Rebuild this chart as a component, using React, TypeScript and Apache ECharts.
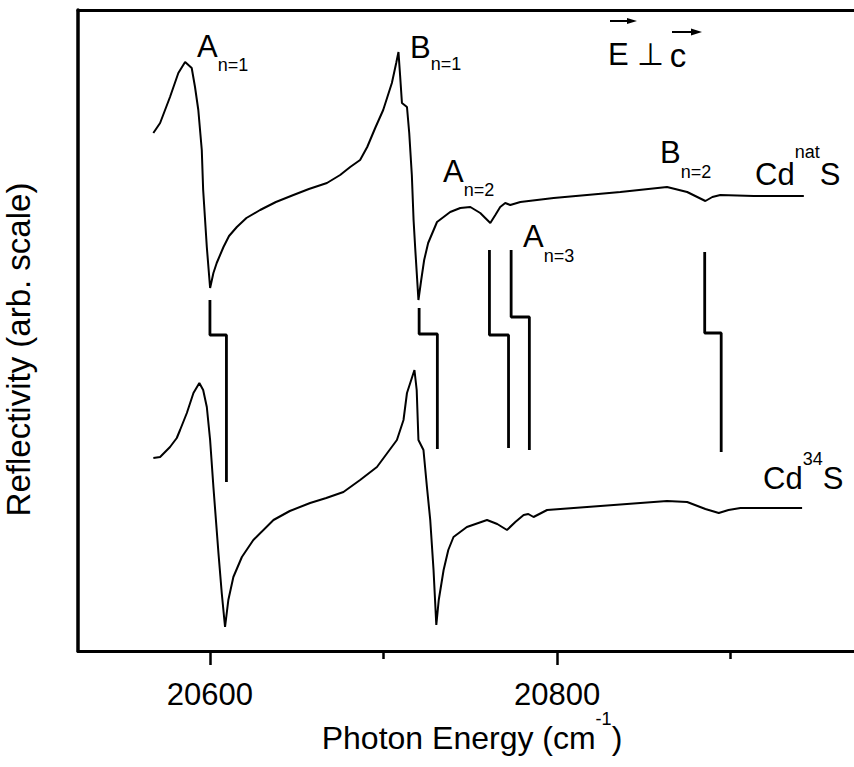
import React, { useEffect, useRef } from "react";
import * as echarts from "echarts";

// ---- data (photon energy in cm^-1, reflectivity in arbitrary units) ----
const natEnergy = [20567.4, 20571.3, 20577.0, 20581.8, 20585.7, 20589.5, 20591.4, 20593.3, 20595.3, 20596.1, 20598.2, 20600.1, 20602.0, 20603.9, 20607.8, 20611.0, 20615.5, 20621.0, 20628.9, 20638.0, 20648.1, 20657.0, 20667.4, 20675.0, 20680.8, 20686.5, 20690.6, 20695.2, 20699.8, 20704.8, 20707.3, 20708.6, 20709.6, 20710.6, 20713.5, 20714.8, 20716.3, 20717.3, 20718.2, 20720.1, 20721.7, 20723.4, 20725.7, 20730.8, 20738.4, 20744.2, 20750.0, 20755.7, 20761.5, 20764.4, 20767.2, 20770.1, 20773.0, 20778.8, 20798.0, 20836.4, 20863.3, 20874.9, 20885.4, 20889.4, 20894.0, 20913.3, 20942.1];
const natReflectivity = [518, 528, 554, 578, 589, 583, 564, 541, 501, 461, 404, 363, 378, 388, 404, 415, 424, 433, 441, 449, 456, 462, 468, 476, 484, 491, 504, 523, 541, 568, 588, 599, 574, 548, 544, 518, 476, 431, 404, 351, 371, 391, 408, 429, 439, 443, 444, 438, 428, 436, 444, 448, 446, 449, 453, 459, 464, 459, 450, 454, 456, 455, 455];

const iso34Energy = [20567.4, 20571.3, 20577.0, 20580.9, 20582.8, 20586.7, 20590.5, 20593.9, 20596.1, 20598.2, 20600.1, 20602.0, 20604.9, 20606.8, 20608.7, 20610.6, 20613.5, 20618.4, 20625.0, 20636.6, 20646.0, 20657.7, 20667.0, 20676.9, 20686.5, 20696.2, 20707.7, 20711.5, 20713.5, 20717.8, 20719.1, 20720.1, 20723.0, 20725.0, 20726.9, 20728.8, 20730.4, 20731.8, 20734.6, 20737.3, 20740.3, 20748.0, 20759.6, 20765.5, 20771.1, 20775.9, 20780.7, 20783.4, 20786.4, 20794.2, 20817.2, 20863.3, 20874.9, 20885.4, 20893.1, 20898.7, 20905.6, 20941.1];
const iso34Reflectivity = [193, 194, 204, 213, 221, 238, 258, 268, 261, 244, 211, 164, 98, 58, 24, 51, 74, 94, 111, 131, 140, 148, 153, 159, 171, 184, 211, 231, 258, 281, 261, 211, 201, 164, 131, 81, 26, 51, 81, 101, 114, 124, 131, 127, 121, 129, 136, 137, 134, 141, 144, 150, 149, 142, 138, 141, 143, 143];

// exciton markers: energy in Cd(nat)S and in Cd34S, with the marker levels
const markerNames = ["A n=1", "B n=1", "A n=2", "A n=3", "B n=2"];
const markerNatEnergy = [20600, 20720.5, 20761, 20773.5, 20885];
const markerIsoEnergy = [20609.5, 20731, 20772, 20784, 20894.5];
const markerTop = [351, 343, 401, 401, 399];
const markerStep = [316, 317, 316, 334, 318];
const markerBottom = [169, 202, 203, 201, 199];

const majorTicks = [20600, 20800];
const minorTicks = [20700, 20900];
const xMin = 20524;
const xMax = 20971;
const yMin = 0;
const yMax = 641;

const FONT = "'Liberation Sans', Arial, Helvetica, sans-serif";

function scriptRich(mainSize: number, scriptSize: number, d: number) {
  // d > 0: script centre d px below main centre; d < 0: d px above
  let padMain = 0;
  let padScript = 0;
  if (d > 0) padScript = mainSize / 2 + d - scriptSize / 2;
  else padMain = -d - (mainSize / 2 - scriptSize / 2);
  return {
    padMain,
    m: { fontSize: mainSize, lineHeight: mainSize, fontFamily: FONT, fill: "#000", color: "#000", verticalAlign: "top", padding: [padMain, 0, 0, 0] },
    o: { fontSize: scriptSize, lineHeight: scriptSize, fontFamily: FONT, fill: "#000", color: "#000", verticalAlign: "top", padding: [padScript, 0, 0, 0] },
  };
}

function scriptLabel(x: number, yMain: number, main: string, script: string, tail: string, d: number) {
  const r = scriptRich(31, 18, d);
  return {
    type: "text",
    x,
    y: yMain - r.padMain - 31 / 2,
    silent: true,
    style: {
      text: `{m|${main}}{o|${script}}` + (tail ? `{m|${tail}}` : ""),
      rich: { m: r.m, o: r.o },
      fill: "#000",
      align: "left",
      verticalAlign: "top",
    },
  };
}

export default function App() {
  const ref = useRef<HTMLDivElement>(null);
  useEffect(() => {
    if (!ref.current) return;
    const chart = echarts.init(ref.current, undefined, { renderer: "svg" });

    const curveStyle = { color: "#000", width: 2 };
    const series: any[] = [
      {
        name: "CdnatS",
        type: "line",
        data: natEnergy.map((e, i) => [e, natReflectivity[i]]),
        showSymbol: false,
        symbol: "none",
        lineStyle: curveStyle,
        silent: true,
      },
      {
        name: "Cd34S",
        type: "line",
        data: iso34Energy.map((e, i) => [e, iso34Reflectivity[i]]),
        showSymbol: false,
        symbol: "none",
        lineStyle: curveStyle,
        silent: true,
      },
    ];
    markerNames.forEach((n, i) => {
      series.push({
        name: n,
        type: "line",
        data: [
          [markerNatEnergy[i], markerTop[i]],
          [markerNatEnergy[i], markerStep[i]],
          [markerIsoEnergy[i], markerStep[i]],
          [markerIsoEnergy[i], markerBottom[i]],
        ],
        showSymbol: false,
        symbol: "none",
        lineStyle: { color: "#000", width: 2.8 },
        silent: true,
      });
    });

    const titleRich = scriptRich(32, 18, -19);

    const option: any = {
      animation: false,
      backgroundColor: "#fff",
      grid: {
        left: 78,
        top: 10,
        right: 0,
        bottom: 116,
        show: false,
        containLabel: false,
        outerBoundsMode: "none",
      },
      xAxis: [
        {
          type: "value",
          min: xMin,
          max: xMax,
          position: "bottom",
          axisLine: { show: true, onZero: false, lineStyle: { color: "#000", width: 3 } },
          splitLine: { show: false },
          axisTick: { show: true, customValues: majorTicks, length: 14, lineStyle: { color: "#000", width: 2.5 } },
          axisLabel: {
            customValues: majorTicks,
            margin: 31.5,
            fontSize: 31,
            lineHeight: 24,
            color: "#000",
            fontFamily: FONT,
            formatter: (v: number) => String(v),
          },
          name: "{m|Photon Energy (cm}{o|-1}{m|)}",
          nameLocation: "middle",
          nameGap: 59,
          nameMoveOverlap: false,
          nameTextStyle: {
            fontSize: 32,
            fontFamily: FONT,
            color: "#000",
            padding: [0, 0, 0, 12],
            rich: { m: titleRich.m, o: titleRich.o },
          },
        },
        {
          type: "value",
          min: xMin,
          max: xMax,
          position: "bottom",
          axisLine: { show: false, onZero: false },
          splitLine: { show: false },
          axisTick: { show: true, customValues: minorTicks, length: 8, lineStyle: { color: "#000", width: 2.5 } },
          axisLabel: { show: false },
        },
        {
          type: "value",
          min: xMin,
          max: xMax,
          position: "top",
          axisLine: { show: true, onZero: false, lineStyle: { color: "#000", width: 3 } },
          splitLine: { show: false },
          axisTick: { show: false },
          axisLabel: { show: false },
        },
      ],
      yAxis: {
        type: "value",
        min: yMin,
        max: yMax,
        axisLine: { show: true, onZero: false, lineStyle: { color: "#000", width: 3.5 } },
        axisTick: { show: false },
        axisLabel: { show: false },
        splitLine: { show: false },
        name: "Reflectivity (arb. scale)",
        nameLocation: "middle",
        nameRotate: 90,
        nameGap: 43,
        nameMoveOverlap: false,
        nameTextStyle: { fontSize: 33, fontFamily: FONT, color: "#000", padding: [0, 38, 0, 0] },
      },
      graphic: [
        scriptLabel(197, 46, "A", "n=1", "", 19),
        scriptLabel(410, 47, "B", "n=1", "", 17),
        scriptLabel(443, 171, "A", "n=2", "", 19),
        scriptLabel(523, 236, "A", "n=3", "", 20),
        scriptLabel(660, 152, "B", "n=2", "", 20),
        scriptLabel(755, 174, "Cd", "nat", "S", -22),
        scriptLabel(763, 478, "Cd", "34", "S", -19),
        {
          type: "text",
          x: 608,
          y: 54 - 15.5,
          silent: true,
          style: {
            text: "{e|E}{p|⊥}{c|c}",
            fill: "#000",
            align: "left",
            verticalAlign: "top",
            rich: {
              e: { fontSize: 31, lineHeight: 31, fontFamily: FONT, fill: "#000", verticalAlign: "top" },
              p: { fontSize: 31, lineHeight: 31, fontFamily: FONT, fill: "#000", verticalAlign: "top", padding: [0, 0, 0, 8] },
              c: { fontSize: 33, lineHeight: 31, fontFamily: FONT, fill: "#000", verticalAlign: "top", padding: [0, 0, 0, 6] },
            },
          },
        },
        { type: "line", silent: true, shape: { x1: 610, y1: 21, x2: 630, y2: 21 }, style: { stroke: "#000", lineWidth: 2 } },
        { type: "polygon", silent: true, shape: { points: [[627, 18], [637, 21], [627, 24]] }, style: { fill: "#000" } },
        { type: "line", silent: true, shape: { x1: 672, y1: 32, x2: 694, y2: 32 }, style: { stroke: "#000", lineWidth: 2 } },
        { type: "polygon", silent: true, shape: { points: [[691, 28.5], [702, 32], [691, 35.5]] }, style: { fill: "#000" } },
      ],
      series,
    };
    chart.setOption(option);
    return () => chart.dispose();
  }, []);

  return (
    <div
      ref={ref}
      style={{ position: "absolute", left: 0, top: 0, width: 854, height: 767, background: "#fff" }}
    />
  );
}
